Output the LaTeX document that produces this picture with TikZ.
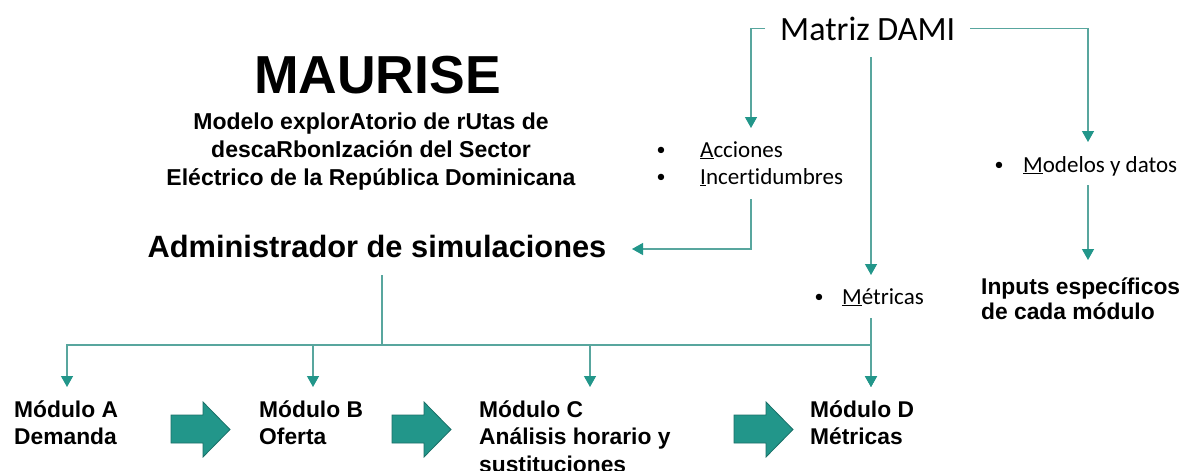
\documentclass[tikz,border=0pt]{standalone}
\usepackage{fontspec}
\setmainfont{Carlito}[Ligatures={NoCommon}]
\newfontfamily\arialf{Liberation Sans}
\usetikzlibrary{arrows.meta}
\definecolor{tealL}{RGB}{88,166,158}
\definecolor{tealD}{RGB}{34,150,138}
\definecolor{tealB}{RGB}{26,112,104}
\tikzset{
  conn/.style={draw=tealL, line width=1.3pt, -{Triangle[width=12pt,length=11pt,color=tealD,fill=tealD]}},
  plainline/.style={draw=tealL, line width=1.3pt},
  boldtxt/.style={font=\arialf\bfseries\fontsize{22.8}{27}\selectfont, inner sep=0pt, anchor=base west},
  subtxt/.style={font=\arialf\bfseries\fontsize{23}{28}\selectfont, inner sep=0pt, anchor=base},
  caltxt/.style={font=\fontsize{23}{27}\selectfont, inner sep=0pt, anchor=base west},
  bultxt/.style={font=\fontsize{18}{27}\selectfont, inner sep=0pt, anchor=base},
  blockarrow/.style={fill=tealD, draw=tealB, line width=0.8pt, line join=miter},
}
\begin{document}
\begin{tikzpicture}[x=1pt,y=-1pt]
\useasboundingbox (0,0) rectangle (1186,471);
\fill[white] (0,0) rectangle (1186,471);

% Title block
\node[font=\arialf\bfseries\fontsize{53.5}{60}\selectfont, inner sep=0pt, anchor=base] (title) at (377.5,93) {MAURISE};
\node[subtxt] (sub1) at (371,129) {Modelo explorAtorio de rUtas de};
\node[subtxt] (sub2) at (371,157) {descaRbonIzación del Sector};
\node[subtxt] (sub3) at (371,185) {Eléctrico de la República Dominicana};
\node[font=\arialf\bfseries\fontsize{30.8}{36}\selectfont, inner sep=0pt, anchor=base] (admin) at (377,257) {Administrador de simulaciones};

% Matriz DAMI
\node[font=\fontsize{34}{40}\selectfont, inner xsep=15pt, inner ysep=17pt, anchor=base west] (matriz) at (765,40) {Matriz DAMI};

% bullet items
\node[bultxt] (b1) at (661,155) {•};
\node[caltxt] (acc) at (700,157) {\underline{A}cciones};
\node[bultxt] (b2) at (661,182) {•};
\node[caltxt] (inc) at (700,184) {\underline{I}ncertidumbres};
\node[bultxt] (b3) at (999,170) {•};
\node[caltxt] (mod) at (1023,172) {\underline{M}odelos y datos};
\node[bultxt] (b4) at (819,302) {•};
\node[caltxt] (met) at (842,304) {\underline{M}étricas};

% Inputs
\node[boldtxt] (inp1) at (981,294) {Inputs específicos};
\node[boldtxt] (inp2) at (981,319) {de cada módulo};

% Modules
\node[boldtxt] (mA1) at (14,417) {Módulo A};
\node[boldtxt] (mA2) at (14,444) {Demanda};
\node[boldtxt] (mB1) at (259,417) {Módulo B};
\node[boldtxt] (mB2) at (259,444) {Oferta};
\node[boldtxt] (mC1) at (479,417) {Módulo C};
\node[boldtxt] (mC2) at (479,444) {Análisis horario y};
\node[boldtxt] (mC3) at (479,472) {sustituciones};
\node[boldtxt] (mD1) at (810,417) {Módulo D};
\node[boldtxt] (mD2) at (810,444) {Métricas};

% coordinates
\coordinate (accTip) at (751,128);
\coordinate (modTip) at (1088,142);
\coordinate (metTip) at (871,275);
\coordinate (incBot) at (751,199);
\coordinate (admTip) at (632,249);
\coordinate (modBot) at (1088,185);
\coordinate (inpTip) at (1088,260);
\coordinate (admBot) at (382,275);
\coordinate (junc) at (382,345);
\coordinate (tipA) at (67,387);
\coordinate (tipB) at (313,387);
\coordinate (tipC) at (590,387);
\coordinate (tipD) at (871,387);
\coordinate (metBot) at (871,318);

% connectors
\draw[conn] (matriz.west) -| (accTip);
\draw[conn] (matriz.east) -| (modTip);
\draw[conn] (matriz.south -| metTip) -- (metTip);
\draw[conn] (incBot) |- (admTip);
\draw[conn] (modBot) -- (inpTip);
\draw[plainline] (admBot) -- (junc);
\draw[conn] (junc) -| (tipA);
\draw[conn] (junc) -| (tipB);
\draw[conn] (junc) -| (tipC);
\draw[conn] (junc) -| (tipD);
\draw[conn] (metBot) -- (tipD);

% block arrows
\foreach \x in {171,392,734}{
  \draw[blockarrow] (\x,415) -- (\x+32,415) -- (\x+32,402) -- (\x+59,429.5) -- (\x+32,457) -- (\x+32,443) -- (\x,443) -- cycle;
}
\end{tikzpicture}
\end{document}
